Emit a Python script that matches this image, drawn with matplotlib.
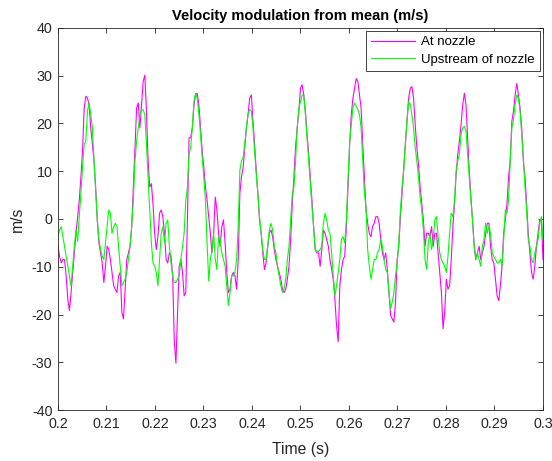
import matplotlib

matplotlib.use("Agg")

import matplotlib.pyplot as plt
import numpy as np


T_START = 0.2
T_END = 0.3

at_nozzle = [
    -5.7, -7.8, -9.2, -8.5, -8.5, -11.9, -16.8, -19.2, -15.4, -11.2, -7.1, -3.0,
    0.5, 3.9, 8.8, 14.3, 23.2, 25.7, 25.3, 23.9, 19.1, 15.7, 12.2, 6.7, -0.2, -5.0,
    -7.1, -9.2, -13.3, -9.9, -5.7, -6.4, -8.5, -11.2, -14.0, -14.7,
    -15.4, -11.9, -11.2, -19.5, -20.9, -14.7, -8.5, -7.1, -5.7, -1.6, 6.7, 15.0,
    23.2, 24.3, 19.1, 23.9, 28.8, 30.1, 22.6, 12.2, 6.7, 7.4, 3.2, -3.0, -6.4, -3.7,
    1.2, 1.9, 0.5, -3.0, -8.5, -9.2, -7.1, -7.8, -11.9, -25.7, -30.2, -19.5,
    -9.9, -8.5, -11.2, -16.1, -15.4, -0.2, 17.0, 17.0, 19.1, 23.9, 26.0, 26.3,
    23.9, 19.1, 14.3, 10.8, 6.7, 3.9, 0.5, -3.0, -7.1, -3.0, 4.6, 1.9, -3.0, -5.7,
    -1.6, -0.2, -5.0, -11.2, -15.4, -14.7, -11.9, -11.2, -11.9, -14.7, -8.5, 5.3,
    8.8, 10.8, 15.0, 19.1, 21.9, 25.3, 26.0, 20.5, 15.7, 10.1, 5.3, -0.2, -3.0,
    -7.1, -10.6, -9.2, -5.7, -3.0, -2.3, -3.7, -6.4, -8.5, -9.9, -11.2, -12.6,
    -14.7, -15.4, -14.7, -12.6, -9.9, -4.3, 3.2, 8.8, 15.0, 19.1, 22.6, 27.4, 28.1,
    26.0, 22.6, 17.7, 13.6, 8.8, 3.9, -1.6, -6.4, -7.1, -7.1, -9.9, -6.4, -2.3,
    -3.0, -4.3, -5.7, -8.5, -10.6, -12.6, -16.8, -22.3, -25.7, -14.0, -10.6, -8.5,
    -7.8, -1.6, 6.7, 15.7, 21.9, 25.3, 27.4, 29.4, 28.8, 26.0, 23.2, 15.7, 8.8,
    1.9, -0.9, -3.0, -3.7, -1.6, -0.9, 0.5, 0.5, -0.9, -4.3, -7.1, -8.5, -7.1,
    -10.6, -15.4, -20.2, -20.9, -21.6, -17.4, -8.5, -5.7, 0.5, 5.3, 10.8, 15.7,
    20.5, 25.3, 27.4, 27.7, 25.3, 19.8, 15.0, 11.5, 6.7, 3.2, -0.2, -5.7, -3.0,
    -3.0, -3.7, -1.6, -5.7, -3.0, -3.0, -7.1, -11.2, -15.4, -23.0, -19.5, -12.6,
    -14.7, -14.0, -8.5, -1.6, 3.2, 9.4, 13.6, 16.3, 19.8, 23.9, 26.3, 23.9, 17.0,
    10.1, 4.6, -0.2, -5.7, -8.5, -7.1, -5.7, -8.5, -7.1, -5.7, -3.0,
    -0.9, -0.9, -5.7, -8.5, -9.2, -12.6, -16.1, -17.1, -14.0, -9.9, -3.0, -0.2,
    3.2, 8.8, 12.2, 20.5, 22.6, 26.0, 28.4, 26.0, 23.2, 19.1, 12.2, 8.8, 3.2, -3.0,
    -7.1, -11.2, -12.6, -9.9, -5.7, -3.0, -0.2, -0.2, -8.5,
]

upstream = [
    -3.7, -2.3, -1.6, -3.7, -5.7, -7.8, -9.9, -11.9, -14.0, -9.9, -5.7, -2.3,
    -4.7, 0.5, 5.3, 10.8, 15.7, 16.3, 22.6, 24.3, 21.9, 19.1, 12.2, 6.0, -0.2, -4.3,
    -6.4, -7.8, -8.5, -5.0, -1.6, 1.9, 1.2, -3.0, -1.6, -0.9,
    -1.6, -5.7, -9.9, -14.0, -13.3, -12.6, -11.2, -8.5, -5.7, -1.6, 3.9, 12.2,
    16.3, 19.1, 21.9, 22.9, 22.9, 21.9, 15.7, 8.8, 1.9, -5.0, -9.2, -9.9, -11.2,
    -14.0, -8.5, -3.0, -1.6, -5.0, -0.9, -0.2, -5.7, -9.2, -11.9, -13.3, -13.3,
    -12.6,
    -11.9, -8.5, -5.7, -3.0, 3.9, 6.7, 13.6, 15.0, 19.1, 24.6, 26.3, 25.3, 21.9,
    17.7, 12.9, 8.8, 3.9, -5.0, -13.0, -8.5, -6.4, -3.0, -8.5, -10.6, -3.7, -4.3,
    -7.1, -8.5, -9.9, -14.0, -18.1, -15.4, -11.9, -11.9, -11.2, -8.5, -1.6, 10.1,
    12.2, 12.9, 15.7, 19.1, 21.9, 22.9, 22.6, 19.1, 14.3, 9.4, 5.3, 0.5, -3.0,
    -6.4, -8.5, -8.5, -5.7, -2.3, -0.9, -2.3, -5.7, -7.1, -9.9, -11.9, -14.0,
    -15.4, -14.7, -12.6, -8.5, -5.7, -0.2, 5.3, 6.7, 12.2, 19.1, 23.2, 24.6, 26.0,
    26.0, 21.9, 17.0, 12.2, 7.4, 2.6, -1.6, -6.4, -6.8, -6.8, -6.4, -5.7, -0.9,
    1.2, -0.2, -2.3, -3.0, -7.1, -11.9, -16.1, -14.0, -11.2, -8.5, -4.3, -3.7,
    -5.0, -0.2, 8.1, 15.7, 19.8, 23.2, 24.3, 23.6, 22.9, 21.9, 19.1, 12.2, 5.3,
    2.6, -6.4, -9.9, -12.6, -10.6, -8.5, -8.5, -7.1, -6.4, -4.3, -5.7, -8.5,
    -10.6, -11.2, -15.4, -18.8, -17.4, -15.4, -11.9, -9.2, -5.0, 1.9, 6.7, 10.1,
    15.7, 20.5, 24.6, 23.9, 21.9, 19.1, 15.0, 12.2, 8.8, 4.6, 1.9, -2.3, -8.5,
    -10.6,
    -5.0, -3.0, -6.4, -4.3, -0.2, 0.5, -3.7, -7.1, -8.5, -9.2, -9.9, -11.2, -7.8,
    -3.0, 1.2, 0.5, 3.9, 10.1, 12.2, 13.6, 17.7, 19.1, 19.4, 18.4, 13.6, 8.8, 3.9,
    -0.2, -5.7, -8.5, -7.1, -8.5, -9.9, -5.7, -4.3, -0.9,
    -3.0, -1.6, -3.0, -7.1, -7.8, -8.5, -9.2, -9.2, -8.5, -9.9, -4.3, 1.9, 1.2,
    3.9, 12.2, 19.1, 20.8, 23.9, 26.0, 25.3, 22.6, 17.7, 12.9, 6.7, 1.9, -4.3,
    -5.7, -8.5, -9.2, -7.1, -5.7, -4.3, -0.9, 0.5, -4.3,
]

series = [
    ("At nozzle", at_nozzle, "#ff00ff"),
    ("Upstream of nozzle", upstream, "#00ff00"),
]

x_ticks = [0.2, 0.21, 0.22, 0.23, 0.24, 0.25, 0.26, 0.27, 0.28, 0.29, 0.3]
x_tick_labels = ["0.2", "0.21", "0.22", "0.23", "0.24", "0.25",
                 "0.26", "0.27", "0.28", "0.29", "0.3"]
y_ticks = [-40, -30, -20, -10, 0, 10, 20, 30, 40]

AXIS_COLOR = "#262626"

plt.rcParams["font.family"] = ["Liberation Sans", "DejaVu Sans"]
plt.rcParams["axes.unicode_minus"] = False

fig = plt.figure(figsize=(5.52, 4.61), dpi=100)
ax = fig.add_axes([0.105, 0.1106, 0.8787, 0.8287])

for label, values, color in series:
    t = np.linspace(T_START, T_END, len(values))
    ax.plot(t, values, color=color, linewidth=0.8, label=label)

ax.set_xlim(0.2, 0.3)
ax.set_ylim(-40, 40)
ax.set_xticks(x_ticks)
ax.set_xticklabels(x_tick_labels)
ax.set_yticks(y_ticks)

ax.tick_params(direction="in", top=True, right=True, length=3.5, width=0.6,
               labelsize=10.3, colors=AXIS_COLOR)
ax.tick_params(axis="x", pad=5)
ax.tick_params(axis="y", pad=4)
for spine in ax.spines.values():
    spine.set_color(AXIS_COLOR)
    spine.set_linewidth(0.6)

ax.set_xlabel("Time (s)", fontsize=11.3, color=AXIS_COLOR, labelpad=8)
ax.set_ylabel("m/s", fontsize=11.3, color=AXIS_COLOR, labelpad=5)
ax.set_title("Velocity modulation from mean (m/s)", fontsize=10.5,
             fontweight="bold", color="black", pad=6)

leg = ax.legend(loc="upper right", fontsize=9.5, fancybox=False,
                framealpha=1, edgecolor=AXIS_COLOR, borderaxespad=0.2,
                handlelength=3.3, handletextpad=0.5, borderpad=0.4,
                labelspacing=0.4)
leg.get_frame().set_linewidth(0.6)

fig.savefig("out.png", dpi=100)
